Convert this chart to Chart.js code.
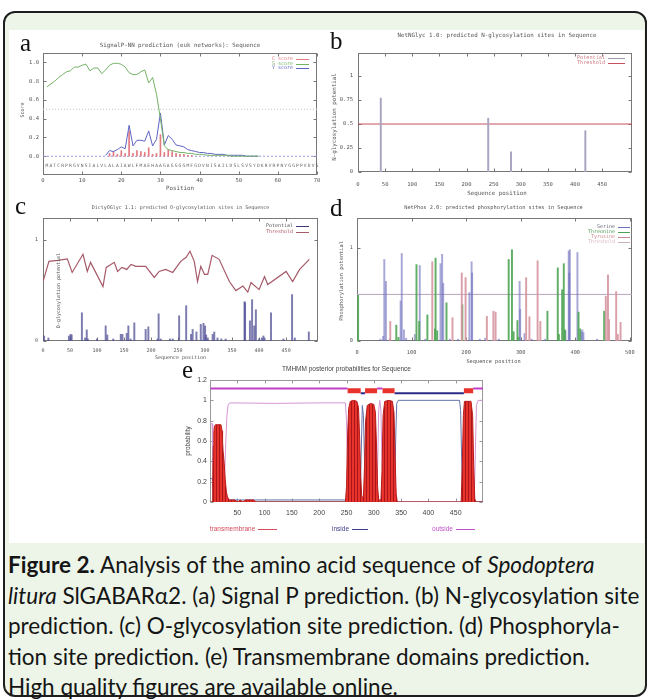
<!DOCTYPE html>
<html>
<head>
<meta charset="utf-8">
<script src="https://cdn.jsdelivr.net/npm/chart.js@4.4.1/dist/chart.umd.min.js"></script>
<style>
  body { margin: 0; width: 649px; height: 700px; position: relative; overflow: hidden; background: #fff; }
  #box { position: absolute; left: 3px; top: 11px; width: 640px; height: 682px; border: 2px solid #1e1e1e; border-radius: 12px; background: #edf5e9; }
  #fig { position: absolute; left: 9px; top: 30px; width: 635px; height: 513px; background: #fff; }
  canvas { position: absolute; }
  .lab { position: absolute; font: 25px/25px "Liberation Serif", serif; color: #111; }
  #cap { position: absolute; left: 8px; top: 550px; font: 22.5px/30.5px Lato, sans-serif; color: #151515; white-space: nowrap; }
</style>
</head>
<body>
<div id="box"></div>
<div id="fig"></div>
<canvas id="ca"></canvas>
<canvas id="cb"></canvas>
<canvas id="cc"></canvas>
<canvas id="cd"></canvas>
<canvas id="ce"></canvas>
<div class="lab" style="left:20px;top:30px">a</div>
<div class="lab" style="left:330px;top:28px">b</div>
<div class="lab" style="left:15px;top:193px">c</div>
<div class="lab" style="left:330px;top:195px">d</div>
<div class="lab" style="left:182px;top:357px">e</div>
<div id="cap"><b>Figure 2.</b> Analysis of the amino acid sequence of <i>Spodoptera</i><br><i>litura</i> SlGABARα2. (a) Signal P prediction. (b) N-glycosylation site<br>prediction. (c) O-glycosylation site prediction. (d) Phosphoryla-<br>tion site prediction. (e) Transmembrane domains prediction.<br>High quality figures are available online.</div>
<script>
// a: SignalP-NN, one value per sequence position
const seqA = "MATCRPRGVNSIALVLALAIAWLFMAEHAAGAGGGGMFGDVNISAILDSLSVSYDKRVRPNYGGPPVDVS";
const sScore = [0.74,0.77,0.80,0.84,0.87,0.90,0.91,0.95,0.95,0.97,
                0.98,0.91,0.94,0.94,0.88,0.92,0.97,0.99,0.99,0.98,
                0.95,0.89,0.87,0.87,0.90,0.92,0.78,0.84,0.66,0.40,
                0.11,0.07,0.06,0.05,0.04,0.04,0.03,0.03,0.02,0.02,
                0.02,0.01,0.01,0.01,0.01,0.01,0.01,0,0,0,0,0,0,0,0];
const yStart = 16;
const yScore = [0.01,0.06,0.05,0.07,0.10,0.08,0.33,0.11,0.17,0.17,
                0.16,0.27,0.11,0.18,0.46,0.12,0.22,0.18,0.12,0.11,
                0.10,0.07,0.06,0.05,0.04,0.04,0.03,0.03,0.02,0.02,
                0.02,0.01,0.01,0.01,0.01,0.01,0,0,0,0];
const cStart = 17;
const cScore = [0.03,0.05,0.02,0.06,0.03,0.27,0.03,0.06,0.05,0.04,
                0.09,0.02,0.03,0.23,0.04,0.07,0.05,0.03,0.02,0.02,0.01,0.01];
const aXTicks = [0,10,20,30,40,50,60,70];
const aYTicks = [0,0.2,0.4,0.6,0.8,1.0];

// b: NetNGlyc
const nPos = [42, 240, 282, 419];
const nPot = [0.77, 0.56, 0.21, 0.43];
const nThreshold = 0.5;
const bXTicks = [0,50,100,150,200,250,300,350,400,450];
const bYTicks = [0,0.25,0.5,0.75,1];

// c: DictyOGlyc [position, value]
const oPotential = [[2,0.05],[10,0.03],[48,0.05],[51,0.066],[53,0.06],[72,0.28],[78,0.03],[81,0.11],[83,0.02],
  [100,0.02],[116,0.15],[119,0.06],[130,0.02],[144,0.066],[147,0.066],[155,0.076],[158,0.15],[162,0.02],[169,0.18],
  [190,0.115],[195,0.14],[212,0.02],[214,0.27],[218,0.02],[235,0.02],[240,0.02],[252,0.25],[265,0.35],[274,0.066],
  [277,0.115],[284,0.09],[292,0.165],[297,0.175],[300,0.15],[302,0.06],[305,0.03],[314,0.066],[317,0.09],[323,0.03],
  [330,0.02],[338,0.02],[373,0.39],[374,0.38],[383,0.2],[387,0.41],[391,0.15],[394,0.31],[400,0.02],[405,0.03],
  [408,0.05],[410,0.03],[422,0.28],[445,0.02],[461,0.46],[466,0.03],[492,0.09]];
const oThreshold = [[0,0.59],[11,0.79],[27,0.80],[45,0.815],[54,0.68],[74,0.86],[82,0.69],[88,0.78],[111,0.54],
  [117,0.73],[132,0.78],[138,0.69],[146,0.73],[155,0.71],[163,0.76],[172,0.74],[190,0.74],[206,0.63],[215,0.69],
  [227,0.71],[240,0.68],[255,0.79],[265,0.83],[272,0.89],[280,0.79],[286,0.59],[292,0.74],[299,0.66],[305,0.66],
  [313,0.85],[326,0.81],[345,0.59],[357,0.50],[370,0.545],[379,0.485],[385,0.58],[400,0.51],[410,0.64],[416,0.56],
  [450,0.69],[462,0.59],[475,0.71],[493,0.81]];
const cXTicks = [0,50,100,150,200,250,300,350,400,450];
const cYTicks = [0,1];

// d: NetPhos [position, value]
const serine = [[43,0.02],[48,0.05],[50,0.875],[53,0.64],[60,0.02],[80,0.43],[82,0.94],[86,0.12],[90,0.03],[106,0.07],
  [115,0.81],[125,0.02],[153,0.83],[156,0.93],[158,0.62],[170,0.02],[185,0.02],[206,0.52],[210,0.85],[211,0.73],
  [225,0.02],[235,0.03],[260,0.02],[298,0.64],[299,0.34],[307,0.08],[320,0.02],[345,0.02],[382,0.11],[388,0.965],
  [389,0.73],[390,0.98],[404,0.95],[411,0.1],[413,0.12],[415,0.09],[440,0.02]];
const threonine = [[2,0.49],[72,0.17],[76,0.04],[109,0.82],[114,0.21],[129,0.28],[143,0.13],[144,0.89],[147,0.11],
  [164,0.41],[193,0.39],[278,0.875],[284,0.98],[287,0.1],[294,0.22],[296,0.04],[349,0.32],[368,0.785],[370,0.07],
  [376,0.55],[379,0.83],[381,0.12],[406,0.31],[409,0.13],[453,0.32]];
const tyrosine = [[61,0.21],[138,0.85],[175,0.25],[192,0.73],[199,0.68],[238,0.265],[250,0.32],[254,0.31],[310,0.68],
  [316,0.26],[331,0.86],[336,0.21],[456,0.48],[460,0.71],[462,0.23],[475,0.53],[478,0.07],[483,0.2]];
const pThreshold = 0.5;
const dXTicks = [0,100,200,300,400,500];
const dYTicks = [0,1];

// e: TMHMM posterior probabilities [position, probability]
const tmProb = [[0,0],[4,0],[5,0.2],[6,0.55],[7,0.68],[8,0.74],[10,0.76],[20,0.76],[21,0.74],[22,0.7],[23,0.6],
  [24,0.5],[26,0.38],[28,0.22],[30,0.1],[32,0.05],[35,0.02],[45,0.02],[48,0.01],[52,0],[55,0.02],[60,0],[65,0.02],
  [80,0.02],[84,0],[248,0],[250,0.15],[252,0.65],[254,0.92],[257,0.99],[263,1.0],[269,0.99],[272,0.93],[274,0.65],
  [276,0.25],[278,0.05],[281,0.05],[283,0.35],[285,0.8],[288,0.95],[294,0.97],[300,0.96],[303,0.88],[305,0.55],
  [307,0.15],[309,0.02],[313,0.02],[315,0.3],[317,0.85],[320,0.99],[328,1.0],[334,0.99],[337,0.88],[339,0.45],
  [341,0.08],[343,0],[460,0],[462,0.35],[464,0.85],[466,0.99],[478,0.99],[481,0.85],[483,0.35],[485,0.03],[487,0],[500,0]];
const insideProb = [[0,0.23],[5,0.23],[6,0.2],[22,0.22],[25,0.15],[28,0.08],[31,0.04],[35,0.02],[248,0.02],[252,0],
  [275,0],[277,0.5],[279,0.95],[281,0.85],[283,0.4],[285,0],[338,0],[340,0.6],[342,0.97],[345,1.0],[457,1.0],
  [459,0.9],[461,0.4],[463,0.02],[465,0],[500,0]];
const outsideProb = [[0,0.77],[4,0.77],[5,0.4],[6,0.04],[7,0.02],[23,0.02],[25,0.1],[27,0.3],[29,0.6],[31,0.85],
  [33,0.95],[36,0.975],[120,0.97],[200,0.975],[248,0.975],[250,0.8],[252,0.3],[254,0.02],[256,0],[305,0],[307,0.35],
  [309,0.9],[311,1.0],[313,0.9],[315,0.4],[317,0.02],[319,0],[484,0],[486,0.5],[488,0.95],[491,1.0],[500,1.0]];
const tmSegments = [[252,276],[284,306],[316,338],[465,482]];
const insideSegments = [[276,284],[338,465]];
const outsideSegments = [[1,252],[306,316],[482,500]];
const eXTicks = [50,100,150,200,250,300,350,400,450];
const eYTicks = [0,0.2,0.4,0.6,0.8,1,1.2];

const GNU = '"DejaVu Sans Mono", monospace';
const ARIAL = '"Liberation Sans", Arial, sans-serif';

const frame = {
  id: 'frame',
  beforeDatasetsDraw(chart, args, o) {
    const {ctx, chartArea: a, scales} = chart;
    const L = Math.round(a.left) + 0.5, T = Math.round(a.top) + 0.5;
    const R = Math.round(a.right) - 0.5, B = Math.round(a.bottom) - 0.5;
    ctx.save();
    ctx.strokeStyle = o.border;
    ctx.lineWidth = 1;
    ctx.strokeRect(L, T, R - L, B - T);
    ctx.beginPath();
    scales.x.ticks.forEach(t => {
      const px = Math.round(scales.x.getPixelForValue(t.value)) + 0.5;
      ctx.moveTo(px, B); ctx.lineTo(px, B - o.tick);
      ctx.moveTo(px, T); ctx.lineTo(px, T + o.tick);
    });
    scales.y.ticks.forEach(t => {
      const py = Math.round(scales.y.getPixelForValue(t.value)) + 0.5;
      ctx.moveTo(L, py); ctx.lineTo(L + o.tick, py);
      ctx.moveTo(R, py); ctx.lineTo(R - o.tick, py);
    });
    ctx.stroke();
    ctx.restore();
  },
  afterDatasetsDraw(chart, args, o) {
    const {ctx, chartArea: a, scales} = chart;
    ctx.save();
    ctx.textBaseline = 'middle';
    (o.texts || []).forEach(t => {
      ctx.save();
      ctx.font = (t.size || o.size) + 'px ' + o.family;
      ctx.fillStyle = t.color || o.color;
      ctx.textAlign = 'center';
      ctx.translate(a.left + t.at[0] * a.width + t.at[1], a.top + t.at[2] * a.height + t.at[3]);
      if (t.rot) ctx.rotate(t.rot * Math.PI / 180);
      ctx.fillText(t.t, 0, 0);
      ctx.restore();
    });
    (o.samples || []).forEach(s => {
      const x0 = a.left + s.at[0] * a.width + s.at[1];
      const y0 = Math.round(a.top + s.at[2] * a.height + s.at[3]) + 0.5;
      ctx.strokeStyle = s.color; ctx.lineWidth = 1;
      ctx.beginPath(); ctx.moveTo(x0, y0); ctx.lineTo(x0 + s.len, y0); ctx.stroke();
    });
    if (o.legend) {
      const lg = o.legend;
      ctx.font = lg.size + 'px ' + o.family;
      ctx.textAlign = 'right';
      lg.items.forEach((it, i) => {
        const y = a.top + lg.top + i * lg.gap;
        const xr = a.right - lg.right;
        ctx.fillStyle = it.text;
        ctx.fillText(it.t, xr, y);
        ctx.strokeStyle = it.line; ctx.lineWidth = 1;
        ctx.beginPath();
        ctx.moveTo(xr + 3, Math.round(y) + 0.5); ctx.lineTo(xr + 3 + lg.len, Math.round(y) + 0.5);
        ctx.stroke();
      });
    }
    if (o.seq) {
      ctx.font = o.seq.size + 'px ' + o.family;
      ctx.fillStyle = o.seq.color;
      ctx.textAlign = 'center';
      const py = scales.y.getPixelForValue(o.seq.y);
      for (let i = 0; i < o.seq.text.length; i++) {
        ctx.fillText(o.seq.text[i], scales.x.getPixelForValue(i + 1), py);
      }
    }
    ctx.restore();
  }
};

function pts(pairs) { return pairs.map(p => ({x: p[0], y: p[1]})); }
function impulses(data, color, w) {
  return {type: 'bar', data, backgroundColor: color, barThickness: w || 1, grouped: false, borderWidth: 0};
}
function line(data, color, w, extra) {
  return Object.assign({type: 'line', data, borderColor: color, borderWidth: w || 1,
    pointRadius: 0, tension: 0, fill: false, spanGaps: false}, extra || {});
}
function segs(list, level) {
  const out = [];
  list.forEach(s => { out.push({x: s[0], y: level}, {x: s[1], y: level}, {x: s[1], y: null}); });
  return out;
}

function panel(id, rect, area, p) {
  const cv = document.getElementById(id);
  cv.width = rect[2]; cv.height = rect[3];
  cv.style.left = rect[0] + 'px'; cv.style.top = rect[1] + 'px';
  const yW = area[0] - rect[0], xH = rect[1] + rect[3] - area[3];
  const font = {family: p.frame.family, size: p.tickSize};
  const grid = {display: false, drawTicks: false, tickLength: 0};
  return new Chart(cv, {
    type: 'line',
    data: {datasets: p.datasets},
    options: {
      responsive: false, animation: false, events: [],
      layout: {padding: {top: area[1] - rect[1], right: rect[0] + rect[2] - area[2], left: 0, bottom: 0}},
      plugins: {legend: {display: false}, tooltip: {enabled: false}, frame: p.frame},
      scales: {
        x: {type: 'linear', min: p.x[0], max: p.x[1], offset: false,
            grid, border: {display: false},
            ticks: {font, color: p.frame.color, padding: p.xPad, maxRotation: 0, autoSkip: false},
            afterBuildTicks: s => { s.ticks = p.xTicks.map(v => ({value: v})); },
            afterFit: s => { s.height = xH; }},
        y: {type: 'linear', min: p.y[0], max: p.y[1],
            grid, border: {display: false},
            ticks: {font, color: p.frame.color, padding: p.yPad, callback: p.yFmt || (v => String(v))},
            afterBuildTicks: s => { s.ticks = p.yTicks.map(v => ({value: v})); },
            afterFit: s => { s.width = yW; }}
      }
    },
    plugins: [frame]
  });
}

// panel a
panel('ca', [10, 30, 318, 172], [43, 53, 317, 175], {
  x: [0, 70], y: [-0.2, 1.1], xTicks: aXTicks, yTicks: aYTicks, tickSize: 5.5, xPad: 2, yPad: 4,
  yFmt: v => v.toFixed(1),
  datasets: [
    line(sScore.map((v, i) => ({x: i + 1, y: v})), '#74b266', 1),
    line(yScore.map((v, i) => ({x: i + yStart, y: v})), '#5f64c4', 1),
    impulses(cScore.map((v, i) => ({x: i + cStart, y: v})), '#e27a80', 1),
    line([{x: 0, y: 0.5}, {x: 70, y: 0.5}], '#c4c4c4', 1, {borderDash: [1, 2]}),
    line([{x: 0, y: 0}, {x: 70, y: 0}], '#9c9ce0', 1, {borderDash: [2, 2]})
  ],
  frame: {border: '#777', tick: 3, family: GNU, size: 5.8, color: '#555',
    texts: [
      {t: 'SignalP-NN prediction (euk networks): Sequence', at: [0.5, 0, 0, -8]},
      {t: 'Score', at: [0, -20, 0.5, -4], rot: -90, size: 5},
      {t: 'Position', at: [0.5, 0, 1, 13]}
    ],
    legend: {right: 24, top: 6, gap: 4.5, len: 13, size: 5, items: [
      {t: 'C score', text: '#e27a80', line: '#e27a80'},
      {t: 'S score', text: '#74b266', line: '#74b266'},
      {t: 'Y score', text: '#5f64c4', line: '#5f64c4'}
    ]},
    seq: {text: seqA, y: -0.1, size: 4.6, color: '#666'}
  }
});

// panel b
panel('cb', [326, 28, 318, 172], [358, 53, 632, 172], {
  x: [0, 505], y: [0, 1.24], xTicks: bXTicks, yTicks: bYTicks, tickSize: 5.5, xPad: 9, yPad: 5,
  datasets: [
    impulses(nPos.map((x, i) => ({x, y: nPot[i]})), '#aaa4c0', 1.3),
    line([{x: 0, y: nThreshold}, {x: 505, y: nThreshold}], '#c4505e', 1)
  ],
  frame: {border: '#777', tick: 3, family: GNU, size: 5.8, color: '#555',
    texts: [
      {t: 'NetNGlyc 1.0: predicted N-glycosylation sites in Sequence', at: [0.5, 2, 0, -18]},
      {t: 'N-glycosylation potential', at: [0, -24, 0.5, 4.5], rot: -90},
      {t: 'Sequence position', at: [0.5, 2, 1, 21]}
    ],
    legend: {right: 27, top: 5, gap: 5, len: 17, size: 5.2, items: [
      {t: 'Potential', text: '#d07a80', line: '#9a98b0'},
      {t: 'Threshold', text: '#d07a80', line: '#c4505e'}
    ]}
  }
});

// panel c
panel('cc', [10, 200, 318, 168], [43, 218, 318, 341], {
  x: [0, 509], y: [0, 1.22], xTicks: cXTicks, yTicks: cYTicks, tickSize: 5, xPad: 6.5, yPad: 5,
  datasets: [
    line(pts(oThreshold), '#a65a68', 1.2),
    impulses(pts(oPotential), 'rgba(80,80,150,0.75)', 1.3)
  ],
  frame: {border: '#777', tick: 3, family: GNU, size: 5, color: '#555',
    texts: [
      {t: 'DictyOGlyc 1.1: predicted O-glycosylation sites in Sequence', at: [0.5, 0, 0, -10]},
      {t: 'O-glycosylation potential', at: [0, 16, 0.5, 11], rot: -90},
      {t: 'Sequence position', at: [0.5, 0, 1, 17]}
    ],
    legend: {right: 25, top: 8, gap: 6, len: 13, size: 5, items: [
      {t: 'Potential', text: '#555', line: '#3a3a70'},
      {t: 'Threshold', text: '#b05a66', line: '#a65a68'}
    ]}
  }
});

// panel d
panel('cd', [326, 200, 318, 168], [357, 218, 632, 341], {
  x: [0, 504], y: [0, 1.32], xTicks: dXTicks, yTicks: dYTicks, tickSize: 5.3, xPad: 8.5, yPad: 4,
  datasets: [
    impulses(pts(tyrosine), 'rgba(214,150,160,0.9)', 1.3),
    impulses(pts(threonine), 'rgba(80,165,85,0.9)', 1.3),
    impulses(pts(serine), 'rgba(110,110,190,0.6)', 1.3),
    line([{x: 0, y: pThreshold}, {x: 504, y: pThreshold}], '#b8a4c0', 1)
  ],
  frame: {border: '#777', tick: 3, family: GNU, size: 5.3, color: '#555',
    texts: [
      {t: 'NetPhos 2.0: predicted phosphorylation sites in Sequence', at: [0.5, -1, 0, -10]},
      {t: 'Phosphorylation potential', at: [0, -15, 0.5, 1.5], rot: -90},
      {t: 'Sequence position', at: [0.5, -1, 1, 21]}
    ],
    legend: {right: 17, top: 9, gap: 5, len: 12, size: 5, items: [
      {t: 'Serine', text: '#667', line: '#6e6ebe'},
      {t: 'Threonine', text: '#4fa055', line: '#4fa055'},
      {t: 'Tyrosine', text: '#d08890', line: '#d08890'},
      {t: 'Threshold', text: '#d8b4bc', line: '#c8b0c0'}
    ]}
  }
});

// panel e
const eCanvas = document.getElementById('ce');
const stripe = document.createElement('canvas');
stripe.width = 3; stripe.height = 4;
const sctx = stripe.getContext('2d');
sctx.fillStyle = '#e8322c'; sctx.fillRect(0, 0, 3, 4);
sctx.fillStyle = '#a8161a'; sctx.fillRect(2, 0, 1, 4);
const tmFill = eCanvas.getContext('2d').createPattern(stripe, 'repeat');

panel('ce', [172, 360, 330, 180], [210, 380, 483, 502], {
  x: [0, 500], y: [0, 1.2], xTicks: eXTicks, yTicks: eYTicks, tickSize: 7, xPad: 6.5, yPad: 3,
  datasets: [
    line(pts(tmProb), '#b81c1c', 1, {fill: 'origin', backgroundColor: tmFill}),
    line(segs(tmSegments, 1.095), '#e8322c', 5, {borderCapStyle: 'butt'}),
    line(segs(insideSegments, 1.07), '#2c2c86', 2),
    line(segs(outsideSegments, 1.117), '#c040c8', 2),
    line(pts(insideProb), '#6472aa', 1),
    line(pts(outsideProb), '#d496d4', 1)
  ],
  frame: {border: '#999', tick: 3, family: ARIAL, size: 6.5, color: '#444',
    texts: [
      {t: 'TMHMM posterior probabilities for Sequence', at: [0.5, 0, 0, -11]},
      {t: 'probability', at: [0, -22, 0.5, 0], rot: -90},
      {t: 'transmembrane', at: [0, 22.5, 1, 27], color: '#d24c5a'},
      {t: 'inside', at: [0, 130.5, 1, 27], color: '#3c3c88'},
      {t: 'outside', at: [0, 232.5, 1, 27], color: '#c050c8'}
    ],
    samples: [
      {at: [0, 48, 1, 27], len: 19, color: '#d24c5a'},
      {at: [0, 142, 1, 27], len: 16, color: '#3c3c88'},
      {at: [0, 246, 1, 27], len: 19, color: '#c050c8'}
    ]
  }
});
</script>
</body>
</html>
